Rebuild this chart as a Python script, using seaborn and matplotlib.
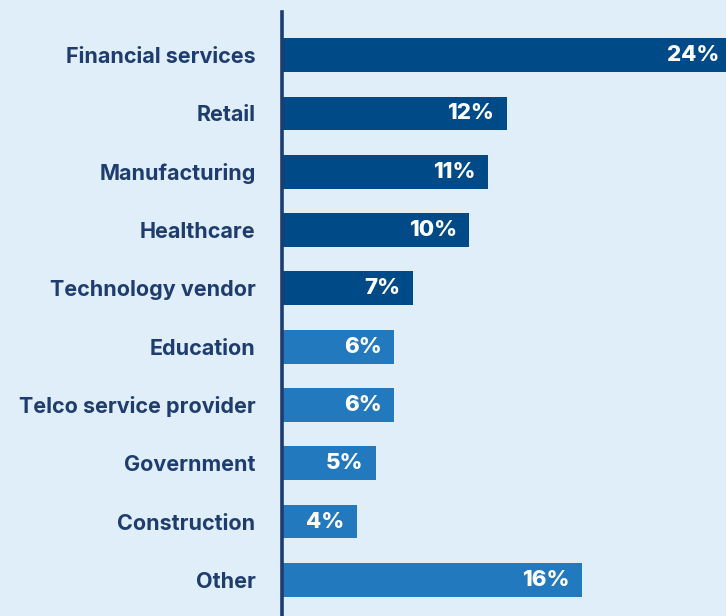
import matplotlib
matplotlib.use("Agg")
import matplotlib.pyplot as plt
import seaborn as sns
import pandas as pd

industries = ["Financial services", "Retail", "Manufacturing", "Healthcare",
              "Technology vendor", "Education", "Telco service provider",
              "Government", "Construction", "Other"]
shares = [24, 12, 11, 10, 7, 6, 6, 5, 4, 16]
tier = ["top", "top", "top", "top", "top", "rest", "rest", "rest", "rest", "rest"]

BG = "#dfeef9"
NAVY = "#1e3c6d"
palette = {"top": "#004a87", "rest": "#2379bd"}

df = pd.DataFrame({"industry": industries, "share": shares, "tier": tier})

sns.set_theme(style="white")
plt.rcParams["font.family"] = ["Inter", "DejaVu Sans"]

fig = plt.figure(figsize=(7.26, 6.16), dpi=100, facecolor=BG)
ax = fig.add_axes([282 / 726, 0, 444 / 726, 1 - 12 / 616])
ax.set_facecolor(BG)

sns.barplot(data=df, x="share", y="industry", hue="tier", palette=palette,
            order=industries, orient="h", width=0.58, dodge=False,
            legend=False, saturation=1, linewidth=0, edgecolor="none", ax=ax)

# the longest bar runs off the right edge of the figure
ax.set_xlim(0, 23.7)
ax.set_ylim(9.62, -0.74)
ax.set_xlabel("")
ax.set_ylabel("")
ax.set_xticks([])
ax.tick_params(axis="y", length=0, pad=19)
for lbl in ax.get_yticklabels():
    lbl.set_fontsize(15.5)
    lbl.set_fontweight("bold")
    lbl.set_color(NAVY)

for side in ["top", "right", "bottom"]:
    ax.spines[side].set_visible(False)
ax.spines["left"].set_color(NAVY)
ax.spines["left"].set_linewidth(2.6)

for i, v in enumerate(shares):
    ax.annotate(f"{v}%", xy=(v, i), xytext=(-9, 0), textcoords="offset points",
                ha="right", va="center", color="white", fontsize=16,
                fontweight="heavy", annotation_clip=False)

fig.savefig("out.png", dpi=100, facecolor=BG)
